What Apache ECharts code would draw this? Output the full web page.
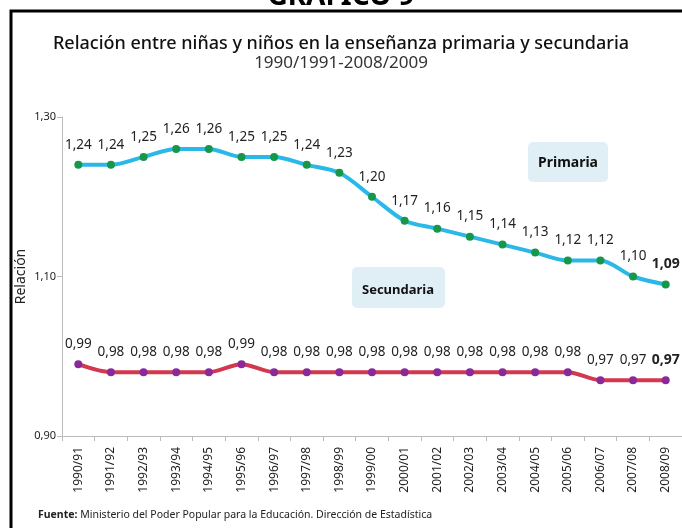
<!DOCTYPE html>
<html>
<head>
<meta charset="utf-8">
<script src="https://cdn.jsdelivr.net/npm/echarts@6/dist/echarts.min.js"></script>
<style>
  html, body { margin: 0; padding: 0; background: #fff; }
  #chart { width: 682px; height: 528px; }
</style>
</head>
<body>
<div id="chart"></div>
<script>
var periodos = ['1990/91', '1991/92', '1992/93', '1993/94', '1994/95', '1995/96', '1996/97',
  '1997/98', '1998/99', '1999/00', '2000/01', '2001/02', '2002/03', '2003/04', '2004/05',
  '2005/06', '2006/07', '2007/08', '2008/09'];
var primaria = [1.24, 1.24, 1.25, 1.26, 1.26, 1.25, 1.25, 1.24, 1.23, 1.20, 1.17, 1.16,
  1.15, 1.14, 1.13, 1.12, 1.12, 1.10, 1.09];
var secundaria = [0.99, 0.98, 0.98, 0.98, 0.98, 0.99, 0.98, 0.98, 0.98, 0.98, 0.98, 0.98,
  0.98, 0.98, 0.98, 0.98, 0.97, 0.97, 0.97];
var yTicks = [0.90, 1.10, 1.30];

var fuente = 'Noto Sans';

function coma(v) {
  return v.toFixed(2).replace('.', ',');
}

// la ultima etiqueta va en negrita
function etiquetas(arr) {
  return arr.map(function(v, i) {
    var d = { value: v };
    if (i === arr.length - 1) {
      d.label = { fontWeight: 'bold', fontSize: 14 };
    }
    return d;
  });
}

var chart = echarts.init(document.getElementById('chart'));
chart.setOption({
  animation: false,
  textStyle: { fontFamily: fuente },
  title: [{
    text: 'Relación entre niñas y niños en la enseñanza primaria y secundaria',
    subtext: '1990/1991-2008/2009',
    left: 'center',
    top: 30,
    itemGap: 2,
    textStyle: { fontSize: 18, fontWeight: 500, color: '#111', fontFamily: fuente },
    subtextStyle: { fontSize: 17, color: '#333', fontFamily: fuente }
  }],
  graphic: [
    {
      type: 'text', left: 'center', top: -17,
      style: { text: 'GRAFICO 9', fontSize: 28, fontWeight: 'bold', fill: '#000', fontFamily: fuente }
    },
    {
      type: 'rect', shape: { x: 11, y: 11, width: 700, height: 600 },
      style: { fill: 'none', stroke: '#000', lineWidth: 3 }
    },
    {
      type: 'rect', shape: { x: 528, y: 142, width: 80, height: 40, r: 5 },
      style: { fill: '#dfeff5' }
    },
    {
      type: 'text', x: 568, y: 163,
      style: { text: 'Primaria', fontSize: 14, fontWeight: 'bold', fill: '#111', align: 'center', verticalAlign: 'middle', fontFamily: fuente }
    },
    {
      type: 'rect', shape: { x: 352, y: 267, width: 93, height: 41, r: 5 },
      style: { fill: '#dfeff5' }
    },
    {
      type: 'text', x: 398, y: 290,
      style: { text: 'Secundaria', fontSize: 13, fontWeight: 'bold', fill: '#111', align: 'center', verticalAlign: 'middle', fontFamily: fuente }
    },
    {
      type: 'text', left: 38, top: 510,
      style: {
        text: '{b|Fuente:} Ministerio del Poder Popular para la Educación. Dirección de Estadística',
        fontSize: 10.5, fill: '#222', fontFamily: fuente,
        rich: { b: { fontWeight: 'bold', fontSize: 10.5, fontFamily: fuente } }
      }
    }
  ],
  grid: { left: 62, top: 117, width: 621, height: 319 },
  xAxis: {
    type: 'category',
    data: periodos,
    axisLine: { lineStyle: { color: '#bbb' } },
    axisTick: { show: true, length: 5, lineStyle: { color: '#bbb' } },
    axisLabel: { rotate: 90, fontSize: 12, color: '#222', margin: 11, fontFamily: fuente }
  },
  yAxis: {
    type: 'value',
    min: 0.9,
    max: 1.3,
    interval: 0.2,
    name: 'Relación',
    nameLocation: 'middle',
    nameGap: 34,
    nameMoveOverlap: false,
    nameTextStyle: { fontSize: 14, color: '#222', fontFamily: fuente },
    splitLine: { show: false },
    axisLine: { show: true, lineStyle: { color: '#bbb' } },
    axisTick: { show: true, length: 5, lineStyle: { color: '#bbb' } },
    axisLabel: {
      fontSize: 11, color: '#222', margin: 6, fontFamily: fuente,
      formatter: function(v) {
        return yTicks.indexOf(Math.round(v * 100) / 100) >= 0 ? coma(v) : '';
      }
    }
  },
  series: [
    {
      name: 'Primaria',
      type: 'line',
      data: etiquetas(primaria),
      smooth: 0.3,
      symbol: 'circle',
      symbolSize: 8,
      lineStyle: { color: '#29b8e8', width: 4 },
      itemStyle: { color: '#17974a' },
      label: {
        show: true, position: 'top', distance: 9, fontSize: 13.5, color: '#222',
        fontFamily: fuente, formatter: function(p) { return coma(p.value); }
      }
    },
    {
      name: 'Secundaria',
      type: 'line',
      data: etiquetas(secundaria),
      smooth: 0.3,
      symbol: 'circle',
      symbolSize: 8,
      lineStyle: { color: '#d2384e', width: 4 },
      itemStyle: { color: '#8a2a9a' },
      label: {
        show: true, position: 'top', distance: 9, fontSize: 13.5, color: '#222',
        fontFamily: fuente, formatter: function(p) { return coma(p.value); }
      }
    }
  ]
});
</script>
</body>
</html>
